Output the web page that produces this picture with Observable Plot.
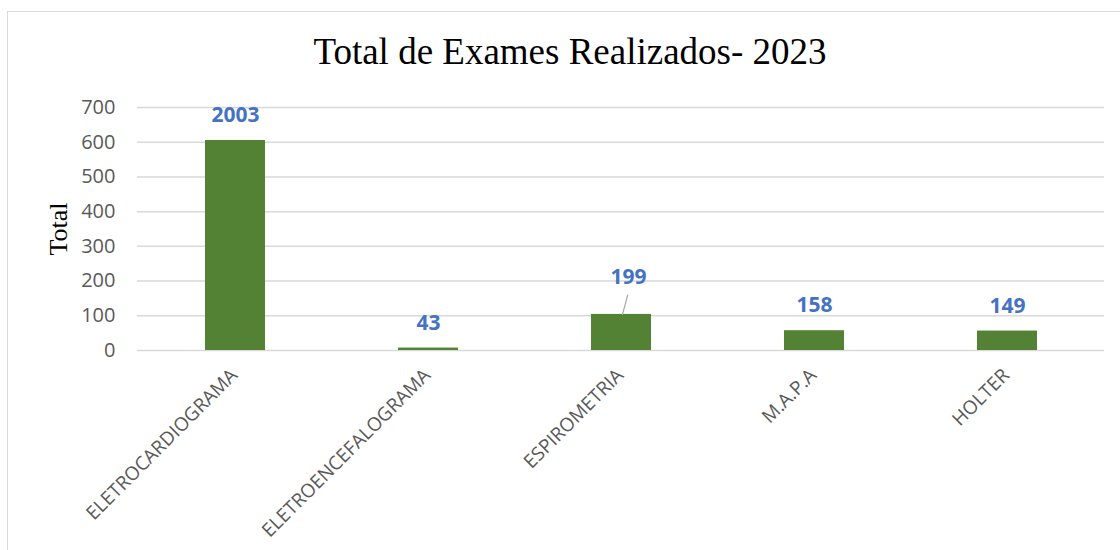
<!DOCTYPE html>
<html>
<head>
<meta charset="utf-8">
<script src="https://cdn.jsdelivr.net/npm/d3@7"></script>
<script src="https://cdn.jsdelivr.net/npm/@observablehq/plot@0.6"></script>
<style>
  html, body { margin: 0; padding: 0; background: #fff; }
  #wrap { position: relative; width: 1120px; height: 550px; overflow: hidden; background: #fff; }
  #box { position: absolute; left: 7px; top: 11px; width: 1130px; height: 560px; border: 1.5px solid #d9d9d9; box-sizing: border-box; }
  #title { position: absolute; left: 0; top: 0; width: 1140px; height: 90px; text-align: center;
           font-family: "Liberation Serif", "DejaVu Serif", serif; font-size: 37px; line-height: 37px;
           padding-top: 33px; box-sizing: border-box; color: #000; }
  #chart { position: absolute; left: 0; top: 90px; }
</style>
</head>
<body>
<div id="wrap">
  <div id="box"></div>
  <div id="title">Total de Exames Realizados- 2023</div>
  <div id="chart"></div>
</div>
<script>
const categories = ["ELETROCARDIOGRAMA", "ELETROENCEFALOGRAMA", "ESPIROMETRIA", "M.A.P.A", "HOLTER"];
const barValues = [605, 7, 104, 57, 56];
const labelValues = ["2003", "43", "199", "158", "149"];
const yTicks = [0, 100, 200, 300, 400, 500, 600, 700];

const data = categories.map((c, i) => ({cat: c, value: barValues[i], label: labelValues[i]}));
const normal = data.filter(d => d.cat !== "ESPIROMETRIA");
const moved = data.filter(d => d.cat === "ESPIROMETRIA");

const labelFont = {fontFamily: "'Open Sans', sans-serif", fontSize: 21, fontWeight: "bold", fill: "#4472C4"};

const leader = {
  draw(context, l) { context.moveTo(0, 0); context.lineTo(0, -l); }
};

const chart = Plot.plot({
  width: 1120,
  height: 460,
  marginTop: 17,
  marginBottom: 200,
  marginLeft: 137,
  marginRight: 16,
  style: {fontFamily: "'Open Sans', sans-serif", background: "transparent"},
  x: {domain: categories, paddingInner: 0.69, paddingOuter: 0.345, axis: null},
  y: {domain: [0, 700], axis: null},
  marks: [
    Plot.gridY(yTicks, {stroke: "#d9d9d9", strokeOpacity: 1, strokeWidth: 1.5}),
    Plot.axisY(yTicks, {tickSize: 0, tickPadding: 22, fontSize: 20, fill: "#595959", label: null}),
    Plot.barY(data, {x: "cat", y: "value", fill: "#548235"}),
    Plot.text(normal, {x: "cat", y: "value", text: "label", dy: -25, ...labelFont}),
    Plot.text(moved, {x: "cat", y: "value", text: "label", dy: -37, dx: 7, ...labelFont}),
    Plot.vector(moved, {x: "cat", y: "value", length: 20, rotate: 15, anchor: "start", shape: leader,
                        stroke: "#a6a6a6", strokeWidth: 1.2, dx: 1}),
    Plot.text(categories, {x: d => d, frameAnchor: "bottom", rotate: -45, textAnchor: "end",
                           dy: 26, dx: 3, fontSize: 19, fill: "#595959"}),
    Plot.text(["Total"], {frameAnchor: "left", textAnchor: "middle", rotate: -90, dx: -79, fontSize: 26,
                          fontFamily: "'Liberation Serif', serif", fill: "#000"})
  ]
});
document.getElementById("chart").appendChild(chart);
</script>
</body>
</html>
